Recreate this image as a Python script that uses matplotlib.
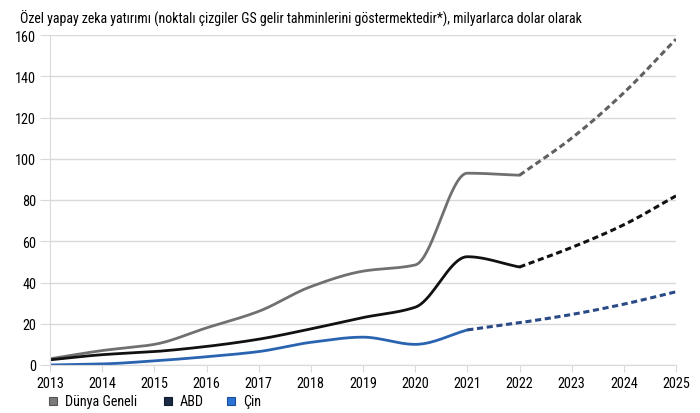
import numpy as np
import matplotlib.pyplot as plt
from matplotlib.patches import Rectangle
from matplotlib import font_manager

years = [2013, 2014, 2015, 2016, 2017, 2018, 2019, 2020, 2021, 2022, 2023, 2024, 2025]
dunya = [3, 7, 10, 18, 26, 38, 45.5, 48.5, 93, 92, 110, 132, 158]
abd = [2.5, 5, 6.5, 9, 12.5, 17.5, 23, 28, 52.5, 47.5, 57, 68, 82]
cin = [0, 0.5, 2, 4, 6.5, 11, 13.5, 10, 17, 20.5, 24.5, 29.5, 35.5]
# last actual year per series (after it: GS forecast, dashed)
split_dunya = 2022
split_abd = 2022
split_cin = 2021

title = "Özel yapay zeka yatırımı (noktalı çizgiler GS gelir tahminlerini göstermektedir*), milyarlarca dolar olarak"
legend_labels = ["Dünya Geneli", "ABD", "Çin"]

names = {f.name for f in font_manager.fontManager.ttflist}
narrow = [n for n in ["Roboto Condensed", "Liberation Sans Narrow", "Open Sans Condensed"] if n in names]
family = narrow[:1] or ["Roboto"]
plt.rcParams["font.family"] = family + ["DejaVu Sans"]
scale = 1.0 if narrow else 0.86


def smooth(x, y, n=40):
    # monotone cubic (Fritsch-Carlson) curve through the points
    x = np.asarray(x, float)
    y = np.asarray(y, float)
    h = np.diff(x)
    d = np.diff(y) / h
    m = np.zeros_like(y)
    m[0], m[-1] = d[0], d[-1]
    for i in range(1, len(y) - 1):
        if d[i - 1] * d[i] > 0:
            w1 = 2 * h[i] + h[i - 1]
            w2 = h[i] + 2 * h[i - 1]
            m[i] = (w1 + w2) / (w1 / d[i - 1] + w2 / d[i])
    xs, ys = [], []
    t = np.linspace(0, 1, n)
    for i in range(len(h)):
        h00 = 2 * t ** 3 - 3 * t ** 2 + 1
        h10 = t ** 3 - 2 * t ** 2 + t
        h01 = -2 * t ** 3 + 3 * t ** 2
        h11 = t ** 3 - t ** 2
        xs.append(x[i] + t * h[i])
        ys.append(h00 * y[i] + h10 * h[i] * m[i] + h01 * y[i + 1] + h11 * h[i] * m[i + 1])
    return np.concatenate(xs), np.concatenate(ys)


fig = plt.figure(figsize=(7, 4.14), dpi=100)
ax = fig.add_axes([50 / 700, 48 / 414, 626 / 700, 330 / 414])

series = [
    (dunya, split_dunya, "#707070", "#606060"),
    (abd, split_abd, "#111111", "#111111"),
    (cin, split_cin, "#2a64b0", "#2a4a86"),
]
for vals, split, col, dcol in series:
    k = years.index(split) + 1
    x, y = smooth(years[:k], vals[:k])
    ax.plot(x, y, color=col, lw=2.0, solid_capstyle="round")
    xd, yd = smooth(years[k - 1:], vals[k - 1:])
    ax.plot(xd, yd, color=dcol, lw=2.2, ls=(0, (2, 1.2)))

ax.set_xlim(2013, 2025)
ax.set_ylim(0, 160)
ax.set_xticks(years)
ax.set_yticks(range(0, 161, 20))
ax.grid(axis="y", color="#d9d9d9", lw=1)
ax.set_axisbelow(True)
for s in ["top", "right"]:
    ax.spines[s].set_visible(False)
ax.spines["left"].set_color("#d9d9d9")
ax.spines["bottom"].set_color("#d9d9d9")
ax.tick_params(axis="x", length=5, color="#d9d9d9", labelsize=10.3 * scale, pad=3)
ax.tick_params(axis="y", length=7, color="#d9d9d9", labelsize=10.3 * scale, pad=3)

fig.text(20 / 700, 1 - 19 / 414, title, fontsize=10.0 * scale, va="center", ha="left")

# legend drawn by hand: square + label
face = ["#7a7a7a", "#1b2b45", "#2a72d4"]
edge = ["#555555", "#0f1a2c", "#1a4f99"]
sq_x = [49, 164, 227]
for lab, fc, ec, px in zip(legend_labels, face, edge, sq_x):
    fig.patches.append(Rectangle((px / 700, 1 - 406 / 414), 8 / 700, 8 / 414,
                                 transform=fig.transFigure, facecolor=fc, edgecolor=ec, lw=0.8))
    fig.text((px + 16) / 700, 1 - 402 / 414, lab, fontsize=10.2 * scale, va="center", ha="left")

fig.savefig("out.png", dpi=100)
